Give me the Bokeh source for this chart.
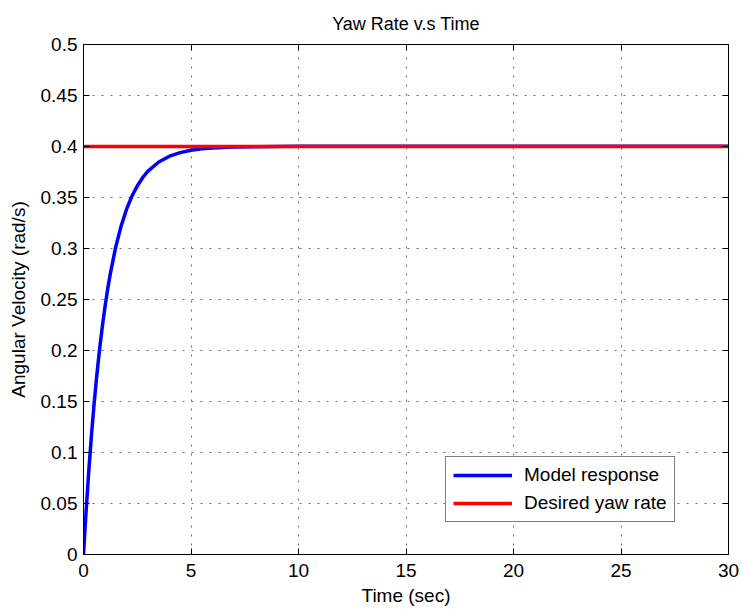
from bokeh.plotting import figure
from bokeh.models import (FixedTicker, LinearAxis, Legend, LegendItem,
                          CustomJSTickFormatter, Range1d)
from bokeh.embed import file_html
from bokeh.resources import INLINE

# Yaw-rate step response of the vehicle model (time in s, rate in rad/s)
time_s = [0, 0.1, 0.25, 0.375, 0.5, 0.625, 0.75, 0.875, 1.0, 1.125, 1.25,
          1.5, 1.75, 2.0, 2.25, 2.5, 2.75, 3.0, 3.5, 4.0, 4.5, 5.0, 5.5,
          6.0, 7.0, 8.0, 10.0, 15.0, 20.0, 25.0, 30.0]
model_rate = [0.0, 0.0357, 0.0833, 0.1182, 0.1493, 0.1770, 0.2015, 0.2234,
              0.2429, 0.2602, 0.2756, 0.3016, 0.3220, 0.3383, 0.3512, 0.3613,
              0.3694, 0.3758, 0.3848, 0.3905, 0.3940, 0.3963, 0.3977, 0.3985,
              0.3994, 0.3998, 0.4002, 0.4003, 0.4003, 0.4003, 0.4003]

# Commanded yaw rate
desired_time = [0, 30]
desired_rate = [0.4, 0.4]

x_ticks = [0, 5, 10, 15, 20, 25, 30]
x_tick_labels = ["0", "5", "10", "15", "20", "25", "30"]
y_ticks = [0, 0.05, 0.1, 0.15, 0.2, 0.25, 0.3, 0.35, 0.4, 0.45, 0.5]
y_tick_labels = ["0", "0.05", "0.1", "0.15", "0.2", "0.25", "0.3", "0.35",
                 "0.4", "0.45", "0.5"]

FONT = "Liberation Sans"
FS = "19px"

p = figure(frame_width=645, frame_height=510,
           x_range=Range1d(0, 30), y_range=Range1d(0, 0.5),
           output_backend="svg", toolbar_location=None,
           title="Yaw Rate v.s Time",
           x_axis_label="Time (sec)", y_axis_label="Angular Velocity (rad/s)",
           min_border_left=83, min_border_right=13,
           min_border_top=44, min_border_bottom=56)

p.background_fill_color = "white"
p.border_fill_color = "white"
p.outline_line_color = "black"
p.outline_line_width = 1

p.title.align = "center"
p.title.text_font = FONT
p.title.text_font_size = "18px"
p.title.text_font_style = "normal"
p.title.text_color = "black"
p.title.standoff = 22

# Main axes
for ax, ticks, labels in ((p.xaxis[0], x_ticks, x_tick_labels),
                          (p.yaxis[0], y_ticks, y_tick_labels)):
    ax.ticker = FixedTicker(ticks=ticks)
    ax.major_label_overrides = dict(zip(ticks, labels))
    ax.major_tick_in = 6
    ax.major_tick_out = 0
    ax.minor_tick_in = 0
    ax.minor_tick_out = 0
    ax.axis_line_color = "black"
    ax.major_tick_line_color = "black"
    ax.major_label_text_font = FONT
    ax.major_label_text_font_size = FS
    ax.major_label_text_color = "black"
    ax.axis_label_text_font = FONT
    ax.axis_label_text_font_size = FS
    ax.axis_label_text_font_style = "normal"
    ax.axis_label_text_color = "black"

p.xaxis[0].major_label_standoff = 9
p.xaxis[0].axis_label_standoff = 5
p.yaxis[0].major_label_standoff = 6
p.yaxis[0].axis_label_standoff = 9

# Tick marks on the top and right edges of the box
blank = CustomJSTickFormatter(code="return ''")
top = LinearAxis(ticker=FixedTicker(ticks=x_ticks), formatter=blank)
right = LinearAxis(ticker=FixedTicker(ticks=y_ticks), formatter=blank)
for ax in (top, right):
    ax.major_tick_in = 6
    ax.major_tick_out = 0
    ax.minor_tick_in = 0
    ax.minor_tick_out = 0
    ax.major_label_standoff = 0
    ax.axis_line_color = "black"
    ax.major_tick_line_color = "black"
p.add_layout(top, "above")
p.add_layout(right, "right")

# Dotted grid
for g, ticks in ((p.xgrid[0], x_ticks), (p.ygrid[0], y_ticks)):
    g.ticker = FixedTicker(ticks=ticks)
    g.grid_line_color = "#6a6a6a"
    g.grid_line_dash = "2 7"
    g.grid_line_width = 1

model = p.line(time_s, model_rate, line_color="#0000ff", line_width=3.5,
               line_join="round")
desired = p.line(desired_time, desired_rate, line_color="#ff0000",
                 line_width=3.5)

legend = Legend(items=[LegendItem(label="Model response", renderers=[model]),
                       LegendItem(label="Desired yaw rate", renderers=[desired])],
                location=(362, 32))
legend.label_text_font = FONT
legend.label_text_font_size = FS
legend.label_text_color = "black"
legend.glyph_width = 59
legend.glyph_height = 20
legend.label_height = 20
legend.label_standoff = 12
legend.padding = 7
legend.spacing = 6
legend.margin = 0
legend.border_line_color = "black"
legend.border_line_width = 1
legend.background_fill_color = "white"
legend.background_fill_alpha = 1
p.add_layout(legend, "center")

open("out.html", "w").write(file_html(p, INLINE))
